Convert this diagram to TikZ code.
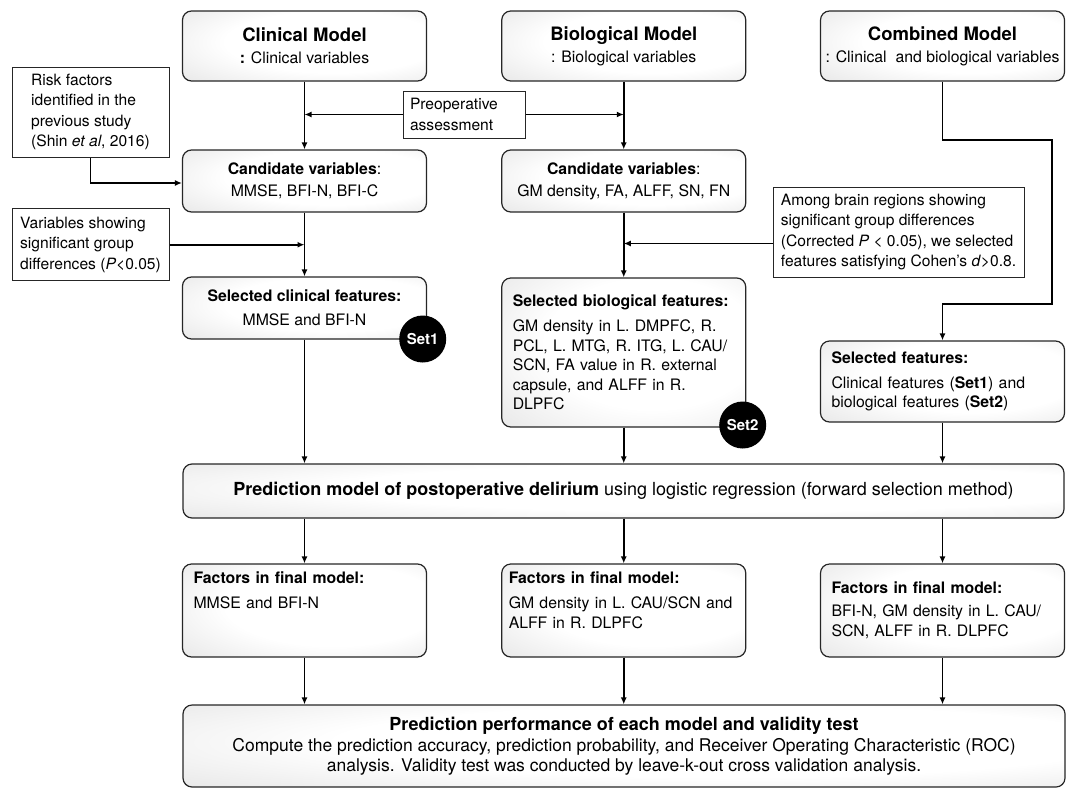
\documentclass[tikz,border=0pt]{standalone}
\usepackage{fontspec}
\setmainfont{TeX Gyre Heros}
\usetikzlibrary{arrows.meta}
\pgfdeclareradialshading{boxshade}{\pgfpoint{8bp}{4bp}}{color(0bp)=(white); color(22bp)=(white); color(52bp)=(black!15); color(80bp)=(black!17)}

\begin{document}
\begin{tikzpicture}[x=1pt,y=-1pt,
        box/.style={draw=black!85,line width=1.2pt,rounded corners=9pt,shading=boxshade,
            font=\fontsize{15.8}{20}\selectfont,minimum width=244pt,align=center},
        lbox/.style={box,align=left,text width=222pt,inner xsep=11pt},
        note/.style={draw=black!85,line width=1pt,fill=white,font=\fontsize{15.6}{20.5}\selectfont,align=left,inner xsep=7pt},
        setmark/.style={circle,fill=black,text=white,font=\fontsize{15}{15}\selectfont\bfseries,minimum size=47pt,inner sep=0pt},
        arr/.style={line width=1.6pt,->},
        >={Latex[length=7pt,width=6pt]}]
    \useasboundingbox (0,0) rectangle (1070,790);
    %% models
    \node[box,minimum height=70pt] (clin) at (304.5,46) {{\fontsize{18.5}{22}\selectfont\bfseries Clinical Model}\\[2pt]\textbf{:} Clinical variables};
    \node[box,minimum height=70pt] (bio) at (623.75,46) {{\fontsize{18.5}{22}\selectfont\bfseries Biological Model}\\[2pt]: Biological variables};
    \node[box,minimum height=70pt] (comb) at (942.5,46) {{\fontsize{18.5}{22}\selectfont\bfseries Combined Model}\\[2pt]: Clinical \ and biological variables};
    %% side notes
    \node[note,minimum width=157pt,minimum height=90pt] (risk) at (90.5,112) {Risk factors\\identified in the\\previous study\\(Shin \textit{et al}, 2016)};
    \node[note,text width=108pt,minimum height=47pt] (preop) at (464,114.5) {Preoperative\\assessment};
    \node[note,minimum width=157pt,minimum height=72pt] (var) at (90.5,244.7) {Variables showing\\significant group\\differences (\textit{P}<0.05)};
    \node[note,minimum width=251pt,minimum height=90pt] (among) at (898.5,232) {Among brain regions showing\\significant group differences\\(Corrected \textit{P} < 0.05), we selected\\features satisfying Cohen's \textit{d}>0.8.};
    %% candidates and selected features
    \node[box,minimum height=62pt] (candC) at (304.5,181) {\textbf{Candidate variables}:\\[2pt]MMSE, BFI-N, BFI-C};
    \node[box,minimum height=62pt] (candB) at (623.75,181) {\textbf{Candidate variables}:\\[2pt]GM density, FA, ALFF, SN, FN};
    \node[box,minimum height=62pt] (selC) at (304.5,308) {\textbf{Selected clinical features:}\\[4pt]MMSE and BFI-N};
    \node[lbox,minimum height=149pt,font=\fontsize{15.8}{19.5}\selectfont] (selB) at (623.75,352.5) {\textbf{Selected biological features:}\\[6pt]GM density in L. DMPFC, R.\\PCL, L. MTG, R. ITG, L. CAU/\\SCN, FA value in R. external\\capsule, and ALFF in R.\\DLPFC};
    \node[lbox,minimum height=81pt,font=\fontsize{15.8}{19.5}\selectfont] (selF) at (942.5,381.5) {\textbf{Selected features:}\\[5pt]Clinical features (\textbf{Set1}) and\\biological features (\textbf{Set2})};
    \node[setmark] (set1) at (422.7,339) {Set1};
    \node[setmark] (set2) at (742.7,425) {Set2};
    %% prediction model
    \node[box,minimum width=881pt,minimum height=54pt,font=\fontsize{18}{21}\selectfont] (pred) at (623.5,491) {\textbf{Prediction model of postoperative delirium} using logistic regression (forward selection method)};
    %% final models
    \node[lbox,minimum height=93pt] (facC) at (304.5,610.5) {\textbf{Factors in final model:}\\[5pt]MMSE and BFI-N\\\mbox{}\\\mbox{}};
    \node[lbox,minimum height=93pt,inner xsep=7pt,text width=230pt] (facB) at (623.75,610.5) {\textbf{Factors in final model:}\\[5pt]GM density in L. CAU/SCN and\\ALFF in R. DLPFC\\\mbox{}};
    \node[lbox,minimum height=93pt] (facF) at (942.5,610.5) {\textbf{Factors in final model:}\\[3pt]BFI-N, GM density in L. CAU/\\SCN, ALFF in R. DLPFC};
    \node[box,minimum width=882pt,minimum height=82pt,font=\fontsize{17.5}{19.5}\selectfont] (final) at (624,746) {{\fontsize{18}{21}\selectfont\bfseries Prediction performance of each model and validity test}\\[2pt]Compute the prediction accuracy, prediction probability, and Receiver Operating Characteristic (ROC)\\analysis. Validity test was conducted by leave-k-out cross validation analysis.};
    %% connectors
    \coordinate (k1) at (1052,140);
    \coordinate (k2) at (1052,304);
    \draw[arr] (clin.south) -- (candC.north);
    \draw[arr] (bio.south) -- (candB.north);
    \draw[arr] (preop.west) -- (preop.west -| clin.south);
    \draw[arr] (preop.east) -- (preop.east -| bio.south);
    \draw[arr] (risk.south) |- ([yshift=-2pt]candC.west);
    \draw[arr] (var.east) -- (var.east -| candC.south);
    \draw[arr] (candC.south) -- (selC.north);
    \draw[arr] (candB.south) -- (selB.north);
    \draw[arr] ([yshift=-11.5pt]among.west) -- ([yshift=-11.5pt]among.west -| candB.south);
    \draw[arr] (comb.south) |- (k1) -- (k2) -| (selF.north);
    \draw[arr] (selC.south) -- (selC.south |- pred.north);
    \draw[arr] (selB.south) -- (selB.south |- pred.north);
    \draw[arr] (selF.south) -- (selF.south |- pred.north);
    \draw[arr] (pred.south -| facC.north) -- (facC.north);
    \draw[arr] (pred.south -| facB.north) -- (facB.north);
    \draw[arr] (pred.south -| facF.north) -- (facF.north);
    \draw[arr] (facC.south) -- (facC.south |- final.north);
    \draw[arr] (facB.south) -- (facB.south |- final.north);
    \draw[arr] (facF.south) -- (facF.south |- final.north);
\end{tikzpicture}
\end{document}
